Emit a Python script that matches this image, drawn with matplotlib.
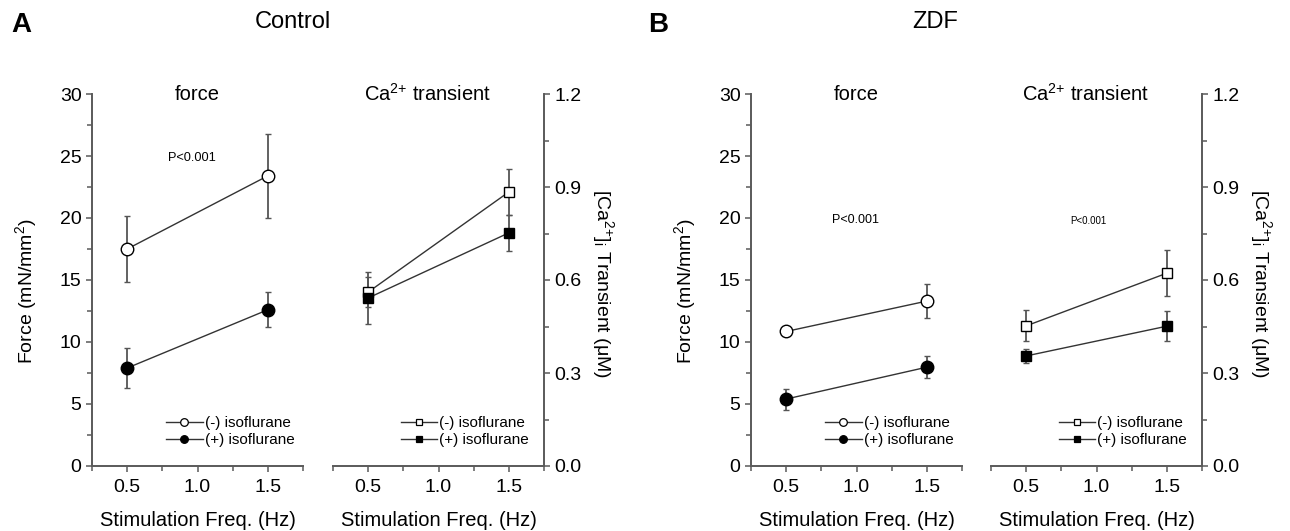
import numpy as np
import matplotlib.pyplot as plt
from matplotlib.ticker import MultipleLocator

plt.rcParams['font.family'] = ['Liberation Sans', 'DejaVu Sans']
plt.rcParams['mathtext.fontset'] = 'custom'
plt.rcParams['mathtext.rm'] = 'Liberation Sans'
plt.rcParams['mathtext.it'] = 'Liberation Sans:italic'

freq = [0.5, 1.5]

# Control
ctrl_force_minus = [17.5, 23.4]
ctrl_force_minus_err = [2.7, 3.4]
ctrl_force_plus = [7.9, 12.6]
ctrl_force_plus_err = [1.6, 1.4]
ctrl_ca_minus = [0.561, 0.884]
ctrl_ca_minus_err = [0.049, 0.074]
ctrl_ca_plus = [0.542, 0.752]
ctrl_ca_plus_err = [0.084, 0.058]

# ZDF
zdf_force_minus = [10.85, 13.3]
zdf_force_minus_err = [0.4, 1.4]
zdf_force_plus = [5.4, 7.97]
zdf_force_plus_err = [0.85, 0.9]
zdf_ca_minus = [0.452, 0.622]
zdf_ca_minus_err = [0.05, 0.075]
zdf_ca_plus = [0.355, 0.451]
zdf_ca_plus_err = [0.023, 0.049]

GRAY = '#5a5a5a'
FS = 14

fig = plt.figure(figsize=(12.9, 5.31), dpi=100)

bottom = 65 / 531
height = 372 / 531
W = 211 / 1290
ax_af = fig.add_axes([92 / 1290, bottom, W, height])
ax_ac = fig.add_axes([333 / 1290, bottom, W, height])
ax_bf = fig.add_axes([751 / 1290, bottom, W, height])
ax_bc = fig.add_axes([991 / 1290, bottom, W, height])


def style(ax, side):
    for s in ['top', 'left', 'right']:
        ax.spines[s].set_visible(False)
    ax.spines[side].set_visible(True)
    for s in ax.spines.values():
        s.set_color(GRAY)
        s.set_linewidth(1.4)
    ax.set_xlim(0.25, 1.75)
    ax.set_xticks([0.5, 1.0, 1.5])
    ax.set_xticklabels(['0.5', '1.0', '1.5'])
    ax.xaxis.set_minor_locator(MultipleLocator(0.25))
    ax.tick_params(which='both', direction='out', color=GRAY, labelsize=FS,
                   pad=3)
    ax.tick_params(axis='x', which='both', pad=5)
    ax.tick_params(which='major', length=4.5, width=1.1)
    ax.tick_params(which='minor', length=3.5, width=1.1)
    if side == 'right':
        ax.yaxis.tick_right()
        ax.yaxis.set_label_position('right')
    ax.set_xlabel('Stimulation Freq. (Hz)', fontsize=14.5, labelpad=11)
    ax.patch.set_alpha(0)


def series(ax, y, err, marker, face, size):
    ax.errorbar(freq, y, yerr=err, color='#333333', ecolor='#555555',
                elinewidth=1.3, capsize=2.3, capthick=1.3, lw=1.0,
                marker=marker, ms=size, mfc=face, mec='black', mew=1.0,
                zorder=3)


def add_legend(ax, marker, ms, anchor):
    h1, = ax.plot([], [], color='#333333', lw=1, marker=marker, ms=ms,
                  mfc='white', mec='black', mew=0.9)
    h2, = ax.plot([], [], color='#333333', lw=1, marker=marker, ms=ms,
                  mfc='black', mec='black', mew=0.9)
    ax.legend([h1, h2], ['(-) isoflurane', '(+) isoflurane'],
              loc='lower right', bbox_to_anchor=anchor, frameon=False,
              fontsize=11, handlelength=2.4, handletextpad=0.15,
              labelspacing=0.22, borderaxespad=0, borderpad=0)


def force_panel(ax, minus, minus_err, plus, plus_err, ptxt, pfs):
    style(ax, 'left')
    series(ax, minus, minus_err, 'o', 'white', 9)
    series(ax, plus, plus_err, 'o', 'black', 9)
    ax.set_ylim(0, 30)
    ax.yaxis.set_major_locator(MultipleLocator(5))
    ax.yaxis.set_minor_locator(MultipleLocator(2.5))
    ax.set_ylabel('Force (mN/mm$^2$)', fontsize=14)
    ax.yaxis.set_label_coords(-0.25, 0.47)
    ax.text(0.5, 1.0, 'force', transform=ax.transAxes, ha='center',
            va='center', fontsize=14.5)
    ax.text(ptxt[0], ptxt[1], 'P<0.001', ha='center', va='center',
            fontsize=pfs)
    add_legend(ax, 'o', 5.5, (0.96, 0.05))


def ca_panel(ax, minus, minus_err, plus, plus_err, ptxt=None):
    style(ax, 'right')
    series(ax, minus, minus_err, 's', 'white', 7.8)
    series(ax, plus, plus_err, 's', 'black', 7.8)
    ax.set_ylim(0, 1.2)
    ax.set_yticks([0.0, 0.3, 0.6, 0.9, 1.2])
    ax.set_yticklabels(['0.0', '0.3', '0.6', '0.9', '1.2'])
    ax.yaxis.set_minor_locator(MultipleLocator(0.15))
    ax.set_ylabel('[Ca$^{2{+}}$]$_\\mathrm{i}$ Transient (μM)', fontsize=14,
                  rotation=270)
    ax.yaxis.set_label_coords(1.34, 0.49)
    ax.text(0.45, 1.0, 'Ca$^{2{+}}$ transient', transform=ax.transAxes,
            ha='center', va='center', fontsize=14.5)
    if ptxt is not None:
        ax.text(ptxt[0], ptxt[1], 'P<0.001', ha='center', va='center',
                fontsize=7)
    add_legend(ax, 's', 5, (0.93, 0.05))


force_panel(ax_af, ctrl_force_minus, ctrl_force_minus_err,
            ctrl_force_plus, ctrl_force_plus_err, (0.96, 24.8), 9.2)
ca_panel(ax_ac, ctrl_ca_minus, ctrl_ca_minus_err,
         ctrl_ca_plus, ctrl_ca_plus_err)
force_panel(ax_bf, zdf_force_minus, zdf_force_minus_err,
            zdf_force_plus, zdf_force_plus_err, (0.99, 19.8), 9)
ca_panel(ax_bc, zdf_ca_minus, zdf_ca_minus_err,
         zdf_ca_plus, zdf_ca_plus_err, ptxt=(0.94, 0.79))

fig.text(21 / 1290, 1 - 25 / 531, 'A', fontsize=20, fontweight='bold',
         ha='center', va='center')
fig.text(658 / 1290, 1 - 25 / 531, 'B', fontsize=20, fontweight='bold',
         ha='center', va='center')
fig.text(293 / 1290, 1 - 22 / 531, 'Control', fontsize=17,
         ha='center', va='center')
fig.text(935 / 1290, 1 - 22 / 531, 'ZDF', fontsize=17,
         ha='center', va='center')

fig.savefig('out.png', dpi=100)
